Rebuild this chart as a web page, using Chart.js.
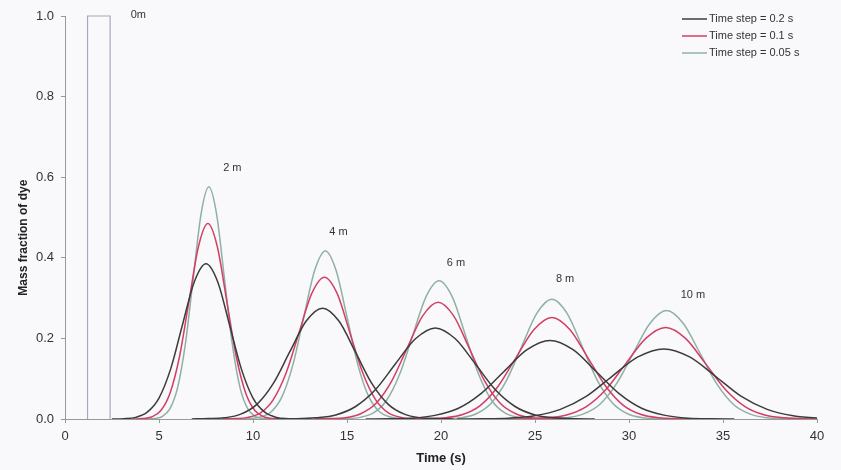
<!DOCTYPE html>
<html>
<head>
<meta charset="utf-8">
<script src="https://cdn.jsdelivr.net/npm/chart.js@4.4.1/dist/chart.umd.min.js"></script>
<style>
html,body{margin:0;padding:0;background:#f9f9fb;}
canvas{display:block;}
</style>
</head>
<body>
<canvas id="c" width="841" height="470"></canvas>
<script>
// ---- DATA ----
const seriesNames = ['Time step = 0.2 s', 'Time step = 0.1 s', 'Time step = 0.05 s'];
const locationLabels = ['0m', '2 m', '4 m', '6 m', '8 m', '10 m'];

// Inlet pulse (0 m)
const pulseT = [1.2, 1.2, 2.4, 2.4];
const pulseC = [0, 1, 1, 0];

// Time step = 0.2 s
const t02_2m  = [2.5,3.125,3.75,4.375,5.0,5.625,6.25,6.875,7.5,8.125,8.75,9.375,10.0,10.625,11.25,11.875,12.5];
const c02_2m  = [0.0001,0.0008,0.004,0.017,0.052,0.125,0.234,0.340,0.385,0.340,0.234,0.125,0.052,0.017,0.004,0.0008,0.0001];
const t02_4m  = [6.74,7.61,8.48,9.35,10.22,11.09,11.96,12.83,13.7,14.57,15.44,16.31,17.18,18.05,18.92,19.79,20.66];
const c02_4m  = [0.0001,0.001,0.003,0.012,0.037,0.089,0.167,0.243,0.275,0.243,0.167,0.089,0.037,0.012,0.003,0.001,0.0001];
const t02_6m  = [11.22,12.28,13.34,14.40,15.46,16.52,17.58,18.64,19.7,20.76,21.82,22.88,23.94,25.00,26.06,27.12,28.18];
const c02_6m  = [0.0001,0.0005,0.003,0.010,0.031,0.073,0.137,0.199,0.226,0.199,0.137,0.073,0.031,0.010,0.003,0.0005,0.0001];
const t02_8m  = [16.0,17.225,18.45,19.675,20.9,22.125,23.35,24.575,25.8,27.025,28.25,29.475,30.7,31.925,33.15,34.375,35.6];
const c02_8m  = [0.0001,0.0004,0.002,0.009,0.026,0.063,0.118,0.172,0.195,0.172,0.118,0.063,0.026,0.009,0.002,0.0004,0.0001];
const t02_10m = [20.85,22.225,23.6,24.975,26.35,27.725,29.1,30.475,31.85,33.225,34.6,35.975,37.35,38.725,40.1,41.475,42.85];
const c02_10m = [0.0001,0.0004,0.002,0.008,0.024,0.056,0.106,0.154,0.174,0.154,0.106,0.056,0.024,0.008,0.002,0.0004,0.0001];

// Time step = 0.1 s
const t01_2m  = [3.6,4.1,4.6,5.1,5.6,6.1,6.6,7.1,7.6,8.1,8.6,9.1,9.6,10.1,10.6,11.1,11.6];
const c01_2m  = [0.0001,0.001,0.005,0.021,0.066,0.157,0.294,0.428,0.485,0.428,0.294,0.157,0.066,0.021,0.005,0.001,0.0001];
const t01_4m  = [8.36,9.04,9.72,10.40,11.08,11.76,12.44,13.12,13.8,14.48,15.16,15.84,16.52,17.20,17.88,18.56,19.24];
const c01_4m  = [0.0001,0.001,0.004,0.015,0.048,0.114,0.213,0.311,0.352,0.311,0.213,0.114,0.048,0.015,0.004,0.001,0.0001];
const t01_6m  = [13.25,14.075,14.9,15.725,16.55,17.375,18.2,19.025,19.85,20.675,21.5,22.325,23.15,23.975,24.8,25.625,26.45];
const c01_6m  = [0.0001,0.001,0.003,0.013,0.039,0.094,0.176,0.256,0.290,0.256,0.176,0.094,0.039,0.013,0.003,0.001,0.0001];
const t01_8m  = [18.3,19.25,20.2,21.15,22.1,23.05,24.0,24.95,25.9,26.85,27.8,28.75,29.7,30.65,31.6,32.55,33.5];
const c01_8m  = [0.0001,0.001,0.003,0.011,0.034,0.082,0.153,0.222,0.252,0.222,0.153,0.082,0.034,0.011,0.003,0.001,0.0001];
const t01_10m = [23.51,24.565,25.62,26.675,27.73,28.785,29.84,30.895,31.95,33.005,34.06,35.115,36.17,37.225,38.28,39.335,40.39];
const c01_10m = [0.0001,0.0005,0.003,0.010,0.031,0.074,0.138,0.200,0.227,0.200,0.138,0.074,0.031,0.010,0.003,0.0005,0.0001];

// Time step = 0.05 s
const t005_2m  = [4.33,4.745,5.16,5.575,5.99,6.405,6.82,7.235,7.65,8.065,8.48,8.895,9.31,9.725,10.14,10.555,10.97];
const c005_2m  = [0.0001,0.001,0.006,0.025,0.078,0.187,0.349,0.508,0.576,0.508,0.349,0.187,0.078,0.025,0.006,0.001,0.0001];
const t005_4m  = [9.25,9.825,10.4,10.975,11.55,12.125,12.7,13.275,13.85,14.425,15.0,15.575,16.15,16.725,17.3,17.875,18.45];
const c005_4m  = [0.0001,0.001,0.005,0.018,0.056,0.135,0.253,0.368,0.417,0.368,0.253,0.135,0.056,0.018,0.005,0.001,0.0001];
const t005_6m  = [14.3,15.0,15.7,16.4,17.1,17.8,18.5,19.2,19.9,20.6,21.3,22.0,22.7,23.4,24.1,24.8,25.5];
const c005_6m  = [0.0001,0.001,0.004,0.015,0.046,0.111,0.208,0.303,0.343,0.303,0.208,0.111,0.046,0.015,0.004,0.001,0.0001];
const t005_8m  = [19.46,20.265,21.07,21.875,22.68,23.485,24.29,25.095,25.9,26.705,27.51,28.315,29.12,29.925,30.73,31.535,32.34];
const c005_8m  = [0.0001,0.001,0.003,0.013,0.040,0.096,0.180,0.262,0.297,0.262,0.180,0.096,0.040,0.013,0.003,0.001,0.0001];
const t005_10m = [24.88,25.77,26.66,27.55,28.44,29.33,30.22,31.11,32.0,32.89,33.78,34.67,35.56,36.45,37.34,38.23,39.12];
const c005_10m = [0.0001,0.001,0.003,0.012,0.036,0.087,0.163,0.237,0.269,0.237,0.163,0.087,0.036,0.012,0.003,0.001,0.0001];

// Label anchor points (data coordinates) for the distance annotations
const labelT = [3.9, 8.9, 14.55, 20.8, 26.6, 33.4];
const labelC = [1.002, 0.624, 0.463, 0.387, 0.348, 0.307];

// ---- STYLES ----
const FONT = '"Liberation Sans", Arial, Helvetica, sans-serif';
const seriesColors = ['#3c3c3c', '#d23f63', '#8fb0a6'];
const seriesOrder = [1, 2, 3];
const pulseColor = '#aaa4c2';

const groups = [
  [[t02_2m,c02_2m],[t02_4m,c02_4m],[t02_6m,c02_6m],[t02_8m,c02_8m],[t02_10m,c02_10m]],
  [[t01_2m,c01_2m],[t01_4m,c01_4m],[t01_6m,c01_6m],[t01_8m,c01_8m],[t01_10m,c01_10m]],
  [[t005_2m,c005_2m],[t005_4m,c005_4m],[t005_6m,c005_6m],[t005_8m,c005_8m],[t005_10m,c005_10m]]
];

const toXY = (t, c) => t.map((x, i) => ({x: x, y: c[i]}));

const datasets = [];
datasets.push({
  label: '0m',
  data: toXY(pulseT, pulseC),
  borderColor: pulseColor,
  borderWidth: 1.2,
  pointRadius: 0,
  tension: 0,
  clip: 4,
  order: 4
});
groups.forEach((g, si) => {
  g.forEach((pair, li) => {
    datasets.push({
      label: seriesNames[si] + ' (' + locationLabels[li + 1] + ')',
      data: toXY(pair[0], pair[1]),
      borderColor: seriesColors[si],
      borderWidth: 1.5,
      pointRadius: 0,
      cubicInterpolationMode: 'monotone',
      order: seriesOrder[si]
    });
  });
});

const bgPlugin = {
  id: 'bg',
  beforeDraw(chart) {
    const ctx = chart.ctx;
    ctx.save();
    ctx.fillStyle = '#f9f9fb';
    ctx.fillRect(0, 0, chart.width, chart.height);
    ctx.restore();
  }
};

const annotPlugin = {
  id: 'annot',
  afterDraw(chart) {
    const ctx = chart.ctx;
    const xs = chart.scales.x, ys = chart.scales.y;
    const area = chart.chartArea;
    ctx.save();
    // distance labels
    ctx.fillStyle = '#333';
    ctx.font = '11px ' + FONT;
    ctx.textAlign = 'center';
    ctx.textBaseline = 'middle';
    locationLabels.forEach((txt, i) => {
      ctx.fillText(txt, xs.getPixelForValue(labelT[i]), ys.getPixelForValue(labelC[i]));
    });
    // y axis title
    ctx.save();
    ctx.translate(24, area.top + area.height * 0.55);
    ctx.rotate(-Math.PI / 2);
    ctx.font = 'bold 12px ' + FONT;
    ctx.fillStyle = '#222';
    ctx.fillText('Mass fraction of dye', 0, 0);
    ctx.restore();
    // legend
    const lx = area.right - 135;
    const ly = area.top + 3;
    ctx.font = '11px ' + FONT;
    ctx.textAlign = 'left';
    seriesNames.forEach((name, i) => {
      const y = ly + i * 17;
      ctx.strokeStyle = seriesColors[i];
      ctx.lineWidth = 1.5;
      ctx.beginPath();
      ctx.moveTo(lx, y);
      ctx.lineTo(lx + 25, y);
      ctx.stroke();
      ctx.fillStyle = '#333';
      ctx.fillText(name, lx + 27, y);
    });
    ctx.restore();
  }
};

new Chart(document.getElementById('c'), {
  type: 'line',
  data: {datasets: datasets},
  options: {
    responsive: false,
    animation: false,
    parsing: true,
    layout: {padding: {top: 16, right: 24, left: 0, bottom: 0}},
    plugins: {
      legend: {display: false},
      tooltip: {enabled: false}
    },
    scales: {
      x: {
        type: 'linear',
        min: 0, max: 40,
        ticks: {stepSize: 5, color: '#333', font: {family: FONT, size: 13}, padding: 6, maxRotation: 0},
        grid: {drawOnChartArea: false, drawTicks: true, tickLength: 4, color: '#999'},
        border: {color: '#999', width: 1},
        title: {display: true, text: 'Time (s)', color: '#222', font: {family: FONT, size: 13, weight: 'bold'}, padding: {top: 0, bottom: 4}},
        afterFit(s) { s.height = 51; }
      },
      y: {
        type: 'linear',
        min: 0, max: 1,
        ticks: {stepSize: 0.2, color: '#333', font: {family: FONT, size: 13}, padding: 7, callback: v => v.toFixed(1)},
        grid: {drawOnChartArea: false, drawTicks: true, tickLength: 4, color: '#999'},
        border: {color: '#999', width: 1},
        afterFit(s) { s.width = 65; }
      }
    }
  },
  plugins: [bgPlugin, annotPlugin]
});
</script>
</body>
</html>
